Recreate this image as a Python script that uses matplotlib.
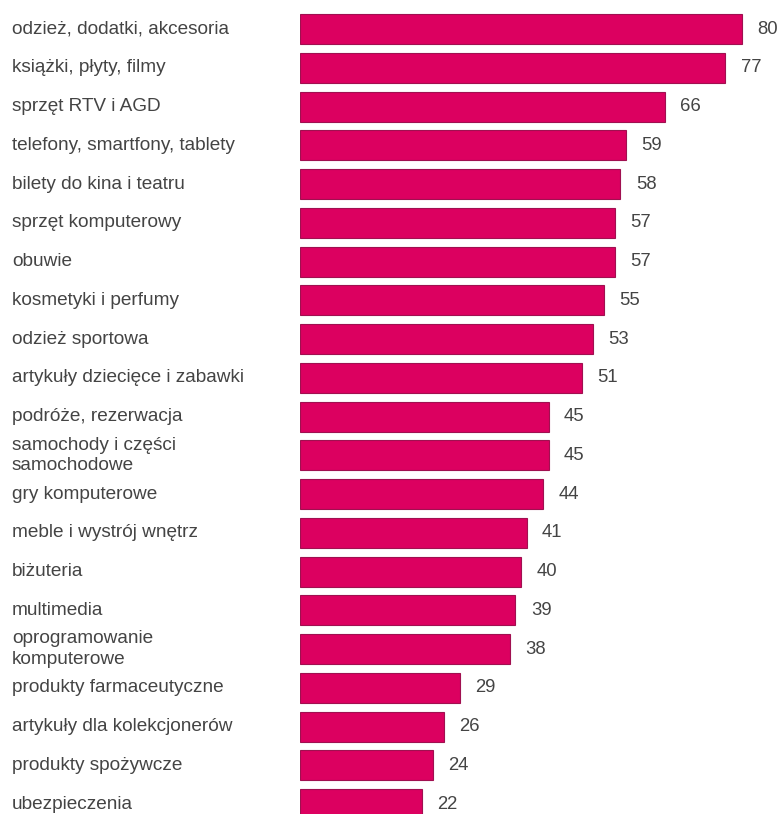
import matplotlib
matplotlib.use('Agg')
import matplotlib.pyplot as plt
from matplotlib.transforms import blended_transform_factory

# categories and percentages
categories = [
    'odzież, dodatki, akcesoria',
    'książki, płyty, filmy',
    'sprzęt RTV i AGD',
    'telefony, smartfony, tablety',
    'bilety do kina i teatru',
    'sprzęt komputerowy',
    'obuwie',
    'kosmetyki i perfumy',
    'odzież sportowa',
    'artykuły dziecięce i zabawki',
    'podróże, rezerwacja',
    'samochody i części\nsamochodowe',
    'gry komputerowe',
    'meble i wystrój wnętrz',
    'biżuteria',
    'multimedia',
    'oprogramowanie\nkomputerowe',
    'produkty farmaceutyczne',
    'artykuły dla kolekcjonerów',
    'produkty spożywcze',
    'ubezpieczenia',
]
values = [80, 77, 66, 59, 58, 57, 57, 55, 53, 51, 45, 45, 44, 41, 40, 39, 38, 29, 26, 24, 22]

bar_color = '#dc0060'
edge_color = '#a01050'
text_color = '#444444'

plt.rcParams['font.family'] = ['Liberation Sans', 'DejaVu Sans']

W, H = 779, 814
fig = plt.figure(figsize=(W / 100, H / 100), dpi=100)

# axes: bars start at x=300px, 80 ends at ~742px; rows 38.75px apart starting at y=29px
x0 = 300
px_per_unit = 442 / 80
row = 38.75
first = 29
ax = fig.add_axes([x0 / W, 0, 1 - x0 / W, 1])
ax.set_xlim(0, (W - x0) / px_per_unit)
ax.set_ylim((H - first) / row, -first / row)
ax.axis('off')

ypos = list(range(len(values)))
ax.barh(ypos, values, height=30 / row, color=bar_color, edgecolor=edge_color, linewidth=0.8)

trans = blended_transform_factory(fig.transFigure, ax.transData)
for y, lab, v in zip(ypos, categories, values):
    ax.text(12 / W, y, lab, transform=trans, ha='left', va='center',
            fontsize=13.7, color=text_color, linespacing=1.25)
    ax.annotate(str(v), (v, y), xytext=(11, 0), textcoords='offset points',
                ha='left', va='center', fontsize=13.3, color=text_color)

fig.savefig('out.png', dpi=100, facecolor='white')
